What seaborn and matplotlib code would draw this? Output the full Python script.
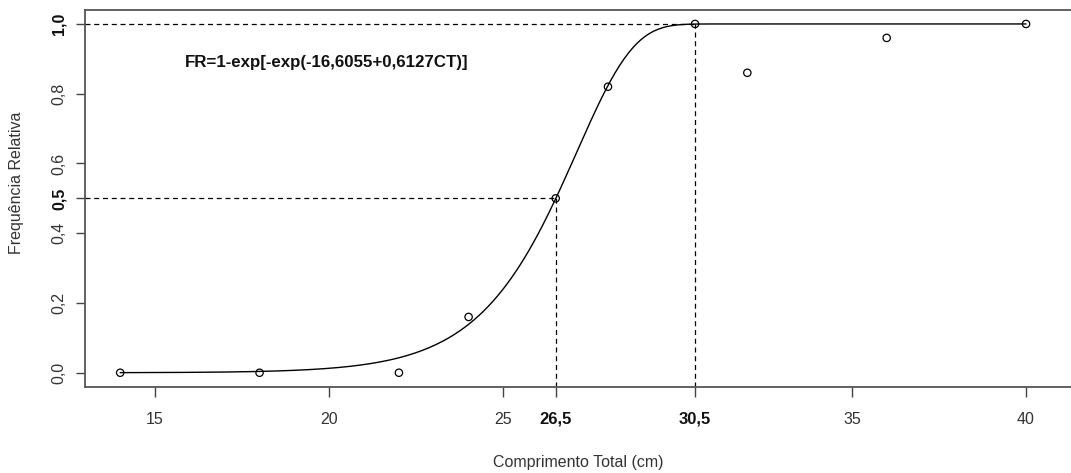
import numpy as np
import pandas as pd
import matplotlib
matplotlib.use("Agg")
import matplotlib.pyplot as plt
import seaborn as sns

# ---- data ----
comprimento = [14, 18, 22, 24, 26.5, 28, 30.5, 32, 36, 40]
frequencia = [0.0, 0.0, 0.0, 0.16, 0.50, 0.82, 1.0, 0.86, 0.96, 1.0]
coef_a = -16.6055
coef_b = 0.6127
l50 = 26.5
l100 = 30.5
x_ticks = [15, 20, 25, 26.5, 30.5, 35, 40]
x_tick_labels = ["15", "20", "25", "26,5", "30,5", "35", "40"]
x_bold = ["26,5", "30,5"]
y_ticks = [0.0, 0.2, 0.4, 0.5, 0.6, 0.8, 1.0]
y_tick_labels = ["0,0", "0,2", "0,4", "0,5", "0,6", "0,8", "1,0"]
y_bold = ["0,5", "1,0"]
equation = "FR=1-exp[-exp(-16,6055+0,6127CT)]"
xlabel = "Comprimento Total (cm)"
ylabel = "Frequência Relativa"

sns.set_theme(style="white")
plt.rcParams["font.family"] = ["Liberation Sans", "DejaVu Sans"]

W, H = 1071, 473
fig = plt.figure(figsize=(W / 100, H / 100), dpi=100)
ax = fig.add_axes([85 / W, 1 - 386.7 / H, 1 - 85 / W, (386.7 - 10) / H])

xlim = (12.99, 41.29)
ylim = (-0.04, 1.04)

# fitted curve
xc = np.linspace(min(comprimento), max(comprimento), 400)
curve = pd.DataFrame({"x": xc, "y": 1 - np.exp(-np.exp(coef_a + coef_b * xc))})
pts = pd.DataFrame({"x": comprimento, "y": frequencia})

dash = (0, (4, 3))
ax.plot([xlim[0], l100], [1.0, 1.0], color="black", lw=0.9, ls=dash)
ax.plot([xlim[0], l50], [0.5, 0.5], color="black", lw=0.9, ls=dash)
ax.plot([l50, l50], [ylim[0], 0.5], color="black", lw=0.9, ls=dash)
ax.plot([l100, l100], [ylim[0], 1.0], color="black", lw=0.9, ls=dash)

sns.lineplot(data=curve, x="x", y="y", ax=ax, color="black", lw=1.0)
sns.scatterplot(data=pts, x="x", y="y", ax=ax, marker="o", s=28,
                facecolor="none", edgecolor="black", linewidth=0.9, zorder=5)

ax.set_xlim(*xlim)
ax.set_ylim(*ylim)

ax.set_xticks(x_ticks)
ax.set_xticklabels(x_tick_labels)
ax.set_yticks(y_ticks)
ax.set_yticklabels(y_tick_labels, rotation=90, va="center", ha="center")

for t in ax.get_xticklabels():
    if t.get_text() in x_bold:
        t.set_fontweight("bold")
        t.set_fontsize(12)
        t.set_color("#111111")
    else:
        t.set_fontsize(11.5)
        t.set_color("#333333")
for t in ax.get_yticklabels():
    if t.get_text() in y_bold:
        t.set_fontweight("bold")
        t.set_fontsize(11.5)
        t.set_color("#111111")
    else:
        t.set_fontsize(11.5)
        t.set_color("#333333")

ax.tick_params(axis="x", length=7, width=1, color="#444444", pad=11, bottom=True)
ax.tick_params(axis="y", length=6.5, width=1, color="#444444", pad=12, left=True)

for s in ["left", "top", "bottom"]:
    ax.spines[s].set_visible(True)
    ax.spines[s].set_color("#555555")
    ax.spines[s].set_linewidth(1.3)
ax.spines["right"].set_visible(False)

ax.set_xlabel("")
ax.set_ylabel("")
fig.text(578 / W, 1 - 462 / H, xlabel, ha="center", va="center",
         fontsize=11.5, color="#333333")
fig.text(17 / W, 1 - 183 / H, ylabel, ha="center", va="center",
         rotation=90, fontsize=11.5, color="#333333")

ax.text(15.86, 0.889, equation, ha="left", va="center",
        fontsize=12.2, fontweight="bold", color="#111111")

fig.savefig("out.png", dpi=100, facecolor="white")
